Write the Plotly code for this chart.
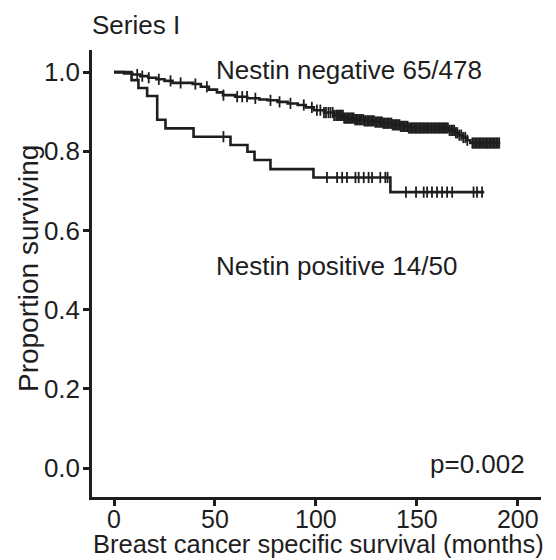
import numpy as np
import plotly.graph_objects as go

# ---- data ----
neg_times = [0, 5, 9, 13, 17, 21, 25, 29, 39, 43, 47, 51, 54, 60, 66, 72, 76, 81, 86,
             91, 95, 99, 104, 109, 114, 119, 124, 129, 133, 138, 142, 146, 166, 169,
             171, 173, 175, 176.5, 191.3]
neg_surv = [1.0, 0.997, 0.994, 0.990, 0.986, 0.982, 0.978, 0.973, 0.970, 0.963, 0.956,
            0.949, 0.942, 0.938, 0.934, 0.931, 0.929, 0.925, 0.921, 0.917, 0.911, 0.904,
            0.898, 0.891, 0.884, 0.880, 0.877, 0.874, 0.871, 0.867, 0.863, 0.859, 0.853,
            0.847, 0.841, 0.835, 0.828, 0.821, 0.821]
neg_censor = [11.5, 14, 17.2, 22.2, 28, 33, 40.3, 46, 54.2, 61, 63.5, 65.9, 70, 77.5, 82,
              87.4, 94, 98, 100.5, 102.2, 104, 105, 106.2, 107.2, 108.3, 109, 110, 110.7,
              111.4, 112, 112.7, 113.4, 114, 114.7, 115.4, 116, 116.7, 117.4, 118, 118.7,
              119.4, 120, 120.7, 121.4, 122, 122.7, 123.4, 124, 124.7, 125.4, 126, 126.7,
              127.4, 128, 128.7, 129.4, 130, 130.7, 131.4, 132, 132.7, 133.4, 134, 134.7,
              135.4, 136, 136.7, 137.4, 138, 138.7, 139.4, 140, 140.7, 141.4, 142, 142.7,
              143.4, 144, 144.7, 145.4, 146, 146.7, 147.4, 148, 148.7, 149.4, 150, 150.7,
              151.4, 152, 152.7, 153.4, 154, 154.7, 155.4, 156, 156.7, 157.4, 158, 158.7,
              159.4, 160, 160.7, 161.4, 162, 162.7, 163.4, 164, 164.7, 165.4, 166.2, 167,
              167.8, 168.5, 169.3, 170, 171, 172, 173, 174, 175, 177.5, 178.2, 178.9,
              179.6, 180.3, 181, 181.7, 182.4, 183.1, 183.8, 184.5, 185.2, 185.9, 186.6,
              187.3, 188, 188.7, 189.4, 190.1, 190.8]

pos_times = [0, 8.7, 12.1, 16.4, 21.4, 25.5, 39.4, 57.7, 66.1, 69.6, 77.5, 98.8, 136.9, 183.4]
pos_surv = [1.0, 0.98, 0.96, 0.94, 0.88, 0.858, 0.837, 0.816, 0.799, 0.778, 0.755, 0.734,
            0.697, 0.697]
pos_censor = [54.2, 105.5, 110.5, 113, 115.4, 119.6, 121.2, 123.7, 126.1, 127.8, 131.9,
              134.4, 135.5, 144.6, 149.6, 153.4, 155.1, 157.5, 160, 162.5, 165, 167.5,
              178.1, 179.8, 182.3]

x_ticks = [0, 50, 100, 150, 200]
y_ticks = [0.0, 0.2, 0.4, 0.6, 0.8, 1.0]
y_tick_text = ["0.0", "0.2", "0.4", "0.6", "0.8", "1.0"]


def step_value(times, surv, t):
    idx = np.searchsorted(np.array(times), np.array(t), side="right") - 1
    return [surv[i] for i in idx]


INK = "#1e1e1e"
FONT = "Liberation Sans, Arial, sans-serif"
FS = 26

fig = go.Figure()
for times, surv, cens in [(neg_times, neg_surv, neg_censor),
                          (pos_times, pos_surv, pos_censor)]:
    fig.add_trace(go.Scatter(x=times, y=surv, mode="lines",
                             line=dict(shape="hv", color=INK, width=2.6),
                             showlegend=False, hoverinfo="skip"))
    fig.add_trace(go.Scatter(x=cens, y=step_value(times, surv, cens), mode="markers",
                             marker=dict(symbol="line-ns", size=8,
                                         line=dict(color=INK, width=1.8)),
                             showlegend=False, hoverinfo="skip"))

ann_font = dict(family=FONT, size=FS, color=INK)
fig.add_annotation(x=49.3, y=1.005, xref="x", yref="y", text="Nestin negative 65/478",
                   showarrow=False, xanchor="left", yanchor="middle", font=ann_font)
fig.add_annotation(x=49.3, y=0.51, xref="x", yref="y", text="Nestin positive 14/50",
                   showarrow=False, xanchor="left", yanchor="middle", font=ann_font)
fig.add_annotation(x=204.7, y=0.01, xref="x", yref="y", text="p=0.002",
                   showarrow=False, xanchor="right", yanchor="middle", font=ann_font)
fig.add_annotation(x=-0.004, y=1.056, xref="paper", yref="paper", text="Series I",
                   showarrow=False, xanchor="left", yanchor="middle", font=ann_font)
fig.add_annotation(x=0.505, y=-0.106, xref="paper", yref="paper",
                   text="Breast cancer specific survival (months)",
                   showarrow=False, xanchor="center", yanchor="middle",
                   font=dict(family=FONT, size=25.5, color=INK))
fig.add_annotation(x=-0.1425, y=0.51, xref="paper", yref="paper",
                   text="Proportion surviving", textangle=-90,
                   showarrow=False, xanchor="center", yanchor="middle",
                   font=dict(family=FONT, size=28, color=INK))

# page body has an 8px default margin, so the figure is 8px smaller than the window
fig.update_layout(
    width=548, height=552,
    margin=dict(l=84, r=15, t=42, b=63),
    paper_bgcolor="white", plot_bgcolor="white",
    xaxis=dict(range=[-10.9, 211.5], tickvals=x_ticks, showgrid=False, zeroline=False,
               showline=True, linecolor=INK, linewidth=2.5, ticks="outside",
               ticklen=6, tickwidth=2.5, tickcolor=INK, ticklabelstandoff=-8,
               tickfont=dict(family=FONT, size=25, color=INK)),
    yaxis=dict(range=[-0.073, 1.056], tickvals=y_ticks, ticktext=y_tick_text,
               showgrid=False, zeroline=False,
               showline=True, linecolor=INK, linewidth=2.5, ticks="outside",
               ticklen=6, tickwidth=2.5, tickcolor=INK, ticklabelstandoff=-2,
               tickfont=dict(family=FONT, size=FS, color=INK)),
)

fig.write_html("out.html")
